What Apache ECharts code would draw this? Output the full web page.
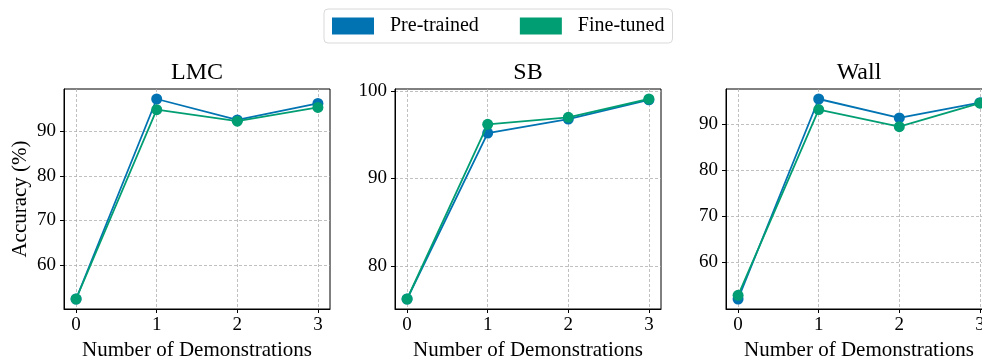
<!DOCTYPE html>
<html><head><meta charset="utf-8">
<script src="https://cdn.jsdelivr.net/npm/echarts@6/dist/echarts.min.js"></script>
<style>html,body{margin:0;padding:0;background:#fff}#c{width:982px;height:362px}</style>
</head><body><div id="c"></div>
<script>
const demos = [0, 1, 2, 3];
const panelTitles = ['LMC', 'SB', 'Wall'];
const seriesNames = ['Pre-trained', 'Fine-tuned'];
const lmcPre  = [52.3, 97.3, 92.6, 96.3];
const lmcFine = [52.3, 94.9, 92.3, 95.4];
const sbPre   = [76.2, 95.2, 96.8, 99.0];
const sbFine  = [76.2, 96.2, 97.0, 99.1];
const wallPre  = [52.1, 95.4, 91.3, 94.6];
const wallFine = [52.9, 93.1, 89.4, 94.5];
const lmcTicks  = [60, 70, 80, 90];
const sbTicks   = [80, 90, 100];
const wallTicks = [60, 70, 80, 90];

const FONT = 'Liberation Serif';
const colors = ['#0173B2', '#029E73'];
const panels = [[lmcPre, lmcFine, lmcTicks], [sbPre, sbFine, sbTicks], [wallPre, wallFine, wallTicks]];
const lefts = [64, 395, 726];
const W = 266, TOP = 89, H = 220;

const grid = [], xAxis = [], yAxis = [], series = [], title = [];
panels.forEach((p, i) => {
  grid.push({left: lefts[i], top: TOP, width: W, height: H, show: true, borderColor: '#000', borderWidth: 1,
    containLabel: false, outerBoundsMode: 'none'});
  title.push({text: panelTitles[i], left: lefts[i] + W / 2, top: 61, textAlign: 'center', padding: 0,
    textStyle: {fontFamily: FONT, fontSize: 24, fontWeight: 'normal', color: '#000'}});
  const all = p[0].concat(p[1]);
  const lo = Math.min(...all), hi = Math.max(...all), m = (hi - lo) * 0.05;
  const xm = (demos[demos.length - 1] - demos[0]) * 0.05;
  xAxis.push({type: 'value', gridIndex: i, min: demos[0] - xm, max: demos[demos.length - 1] + xm,
    name: 'Number of Demonstrations', nameLocation: 'middle', nameGap: 30,
    nameTextStyle: {fontFamily: FONT, fontSize: 21, color: '#000'},
    axisLine: {show: true, onZero: false, lineStyle: {color: '#000', width: 1}},
    axisTick: {show: true, customValues: demos, length: 4, lineStyle: {color: '#000'}},
    axisLabel: {customValues: demos, margin: 7, fontFamily: FONT, fontSize: 19, color: '#000'},
    splitLine: {show: true, lineStyle: {color: '#b0b0b0', width: 0.8, type: [3, 2]}}});
  yAxis.push({type: 'value', gridIndex: i, min: lo - m, max: hi + m,
    name: i === 0 ? 'Accuracy (%)' : '', nameLocation: 'middle', nameGap: 33,
    nameTextStyle: {fontFamily: FONT, fontSize: 21, color: '#000'},
    axisLine: {show: true, onZero: false, lineStyle: {color: '#000', width: 1}},
    axisTick: {show: true, customValues: p[2], length: 4, lineStyle: {color: '#000'}},
    axisLabel: {customValues: p[2], margin: 8, fontFamily: FONT, fontSize: 19, color: '#000'},
    splitLine: {show: true, lineStyle: {color: '#b0b0b0', width: 0.8, type: [3, 2]}}});
  [0, 1].forEach(k => {
    series.push({type: 'line', name: seriesNames[k], xAxisIndex: i, yAxisIndex: i,
      data: demos.map((d, j) => [d, p[k][j]]),
      symbol: 'circle', symbolSize: 11, showSymbol: true,
      lineStyle: {color: colors[k], width: 1.8}, itemStyle: {color: colors[k]},
      z: 3 + k, animation: false});
  });
});

const chart = echarts.init(document.getElementById('c'), null, {renderer: 'canvas'});
chart.setOption({
  animation: false,
  title,
  legend: {data: seriesNames, left: 324, top: 9, icon: 'rect', itemWidth: 42, itemHeight: 17, itemGap: 41,
    padding: [7, 8], borderColor: '#d9d9d9', borderWidth: 1, borderRadius: 4,
    textStyle: {fontFamily: FONT, fontSize: 20, color: '#000', padding: [0, 0, 0, 11]}},
  grid, xAxis, yAxis, series
});
</script></body></html>
